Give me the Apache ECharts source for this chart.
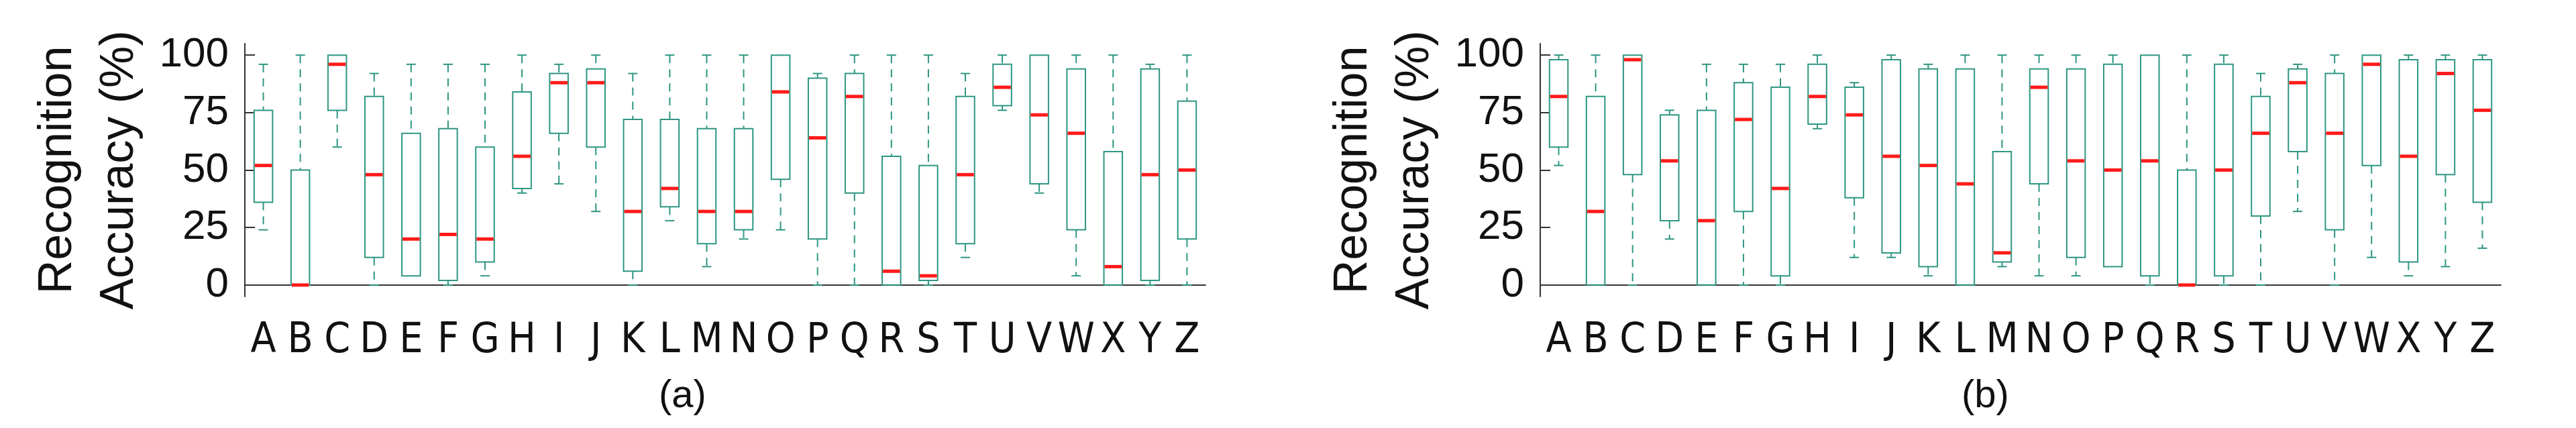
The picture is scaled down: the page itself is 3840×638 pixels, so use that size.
<!DOCTYPE html>
<html style="height: 100%; width: 100%">
<head>
  <meta charset="utf-8" />
  <script src="https://cdn.jsdelivr.net/npm/echarts@6/dist/echarts.min.js"></script>
</head>
<body style="height: 100%; width: 100%; margin: 0; background: #fff;">
  <div id="chart-panel" style="width: 3840px; height: 638px;"></div>
  <script type="text/javascript">
    var letters = "ABCDEFGHIJKLMNOPQRSTUVWXYZ".split("");
    var yTicks = [0, 25, 50, 75, 100];

    // [min, Q1, median, Q3, max] per letter
    var boxesA = [
      [24, 36, 52, 76, 96], [0, 0, 0, 50, 100], [60, 76, 96, 100, 100], [0, 12, 48, 82, 92],
      [4, 4, 20, 66, 96], [0, 2, 22, 68, 96], [4, 10, 20, 60, 96], [40, 42, 56, 84, 100],
      [44, 66, 88, 92, 96], [32, 60, 88, 94, 100], [0, 6, 32, 72, 92], [28, 34, 42, 72, 100],
      [8, 18, 32, 68, 100], [20, 24, 32, 68, 100], [24, 46, 84, 100, 100], [0, 20, 64, 90, 92],
      [0, 40, 82, 92, 100], [0, 0, 6, 56, 100], [0, 2, 4, 52, 100], [12, 18, 48, 82, 92],
      [76, 78, 86, 96, 100], [40, 44, 74, 100, 100], [4, 24, 66, 94, 100], [0, 0, 8, 58, 100],
      [0, 2, 48, 94, 96], [0, 20, 50, 80, 100]
    ];
    var boxesB = [
      [52, 60, 82, 98, 100], [0, 0, 32, 82, 100], [0, 48, 98, 100, 100], [20, 28, 54, 74, 76],
      [0, 0, 28, 76, 96], [0, 32, 72, 88, 96], [0, 4, 42, 86, 96], [68, 70, 82, 96, 100],
      [12, 38, 74, 86, 88], [12, 14, 56, 98, 100], [4, 8, 52, 94, 96], [0, 0, 44, 94, 100],
      [8, 10, 14, 58, 100], [4, 44, 86, 94, 100], [4, 12, 54, 94, 100], [8, 8, 50, 96, 100],
      [0, 4, 54, 100, 100], [0, 0, 0, 50, 100], [0, 4, 50, 96, 100], [0, 30, 66, 82, 92],
      [32, 58, 88, 94, 96], [0, 24, 66, 92, 100], [12, 52, 96, 100, 100], [4, 10, 56, 98, 100],
      [8, 48, 92, 98, 100], [16, 36, 76, 98, 100]
    ];

    var teal = "#2E9682";
    var red = "#FF1A1A";

    function toData(boxes) {
      return boxes.map(function (b, i) { return [i].concat(b); });
    }

    function renderBox(params, api) {
      var x = api.value(0);
      var half = api.size([1, 0])[0] * 0.25;
      var cap = 7;
      var pMin = api.coord([x, api.value(1)]);
      var pQ1 = api.coord([x, api.value(2)]);
      var pMed = api.coord([x, api.value(3)]);
      var pQ3 = api.coord([x, api.value(4)]);
      var pMax = api.coord([x, api.value(5)]);
      var cx = pMed[0];
      var dash = { stroke: teal, lineWidth: 2, lineDash: [12, 9] };
      var solid = { stroke: teal, lineWidth: 2 };
      var children = [];
      if (pMin[1] - pQ1[1] > 1) {
        children.push({ type: "line", shape: { x1: cx, y1: pQ1[1], x2: cx, y2: pMin[1] }, style: dash });
        children.push({ type: "line", shape: { x1: cx - cap, y1: pMin[1], x2: cx + cap, y2: pMin[1] }, style: solid });
      }
      if (pQ3[1] - pMax[1] > 1) {
        children.push({ type: "line", shape: { x1: cx, y1: pMax[1], x2: cx, y2: pQ3[1] }, style: dash });
        children.push({ type: "line", shape: { x1: cx - cap, y1: pMax[1], x2: cx + cap, y2: pMax[1] }, style: solid });
      }
      children.push({
        type: "rect",
        shape: { x: cx - half, y: pQ3[1], width: half * 2, height: pQ1[1] - pQ3[1] },
        style: { fill: "#fff", stroke: teal, lineWidth: 2 }
      });
      children.push({
        type: "rect",
        shape: { x: cx - half + 1, y: pMed[1] - 2.5, width: half * 2 - 2, height: 5 },
        style: { fill: red }
      });
      return { type: "group", children: children };
    }

    function makeX(idx) {
      return {
        type: "category", gridIndex: idx, data: letters,
        axisLine: { lineStyle: { color: "#333", width: 2 } },
        axisTick: { inside: true, alignWithLabel: true, length: 17, lineStyle: { color: "#333", width: 2 } },
        axisLabel: { interval: 0, margin: 36, color: "#111", fontSize: 62, fontFamily: "Liberation Sans Narrow, DejaVu Sans Condensed, sans-serif" },
        splitLine: { show: false }
      };
    }
    function makeY(idx) {
      return {
        type: "value", gridIndex: idx, min: -5, max: 105,
        name: "Recognition\nAccuracy (%)", nameLocation: "middle", nameRotate: 90, nameGap: 140,
        nameTextStyle: { fontSize: 70, lineHeight: 92, color: "#111", fontFamily: "Liberation Sans, sans-serif" },
        axisLine: { show: true, lineStyle: { color: "#333", width: 2 } },
        axisTick: { show: true, inside: true, length: 15, customValues: yTicks, lineStyle: { color: "#333", width: 2 } },
        axisLabel: { customValues: yTicks, margin: 24, color: "#111", fontSize: 62, fontFamily: "Liberation Sans Narrow, Liberation Sans, sans-serif" },
        splitLine: { show: false }
      };
    }

    var chart = echarts.init(document.getElementById("chart-panel"));
    chart.setOption({
      animation: false,
      grid: [
        { left: 365, top: 65, width: 1432, height: 377 },
        { left: 2296, top: 65, width: 1432, height: 377 }
      ],
      xAxis: [makeX(0), makeX(1)],
      yAxis: [makeY(0), makeY(1)],
      graphic: [
        { type: "text", left: 982, top: 562, style: { text: "(a)", fontSize: 58, fill: "#111", fontFamily: "Liberation Sans Narrow, sans-serif" } },
        { type: "text", left: 2924, top: 562, style: { text: "(b)", fontSize: 58, fill: "#111", fontFamily: "Liberation Sans Narrow, sans-serif" } }
      ],
      series: [
        { type: "custom", xAxisIndex: 0, yAxisIndex: 0, data: toData(boxesA), encode: { x: 0, y: [1, 2, 3, 4, 5] }, renderItem: renderBox },
        { type: "custom", xAxisIndex: 1, yAxisIndex: 1, data: toData(boxesB), encode: { x: 0, y: [1, 2, 3, 4, 5] }, renderItem: renderBox }
      ]
    });
  </script>
</body>
</html>
